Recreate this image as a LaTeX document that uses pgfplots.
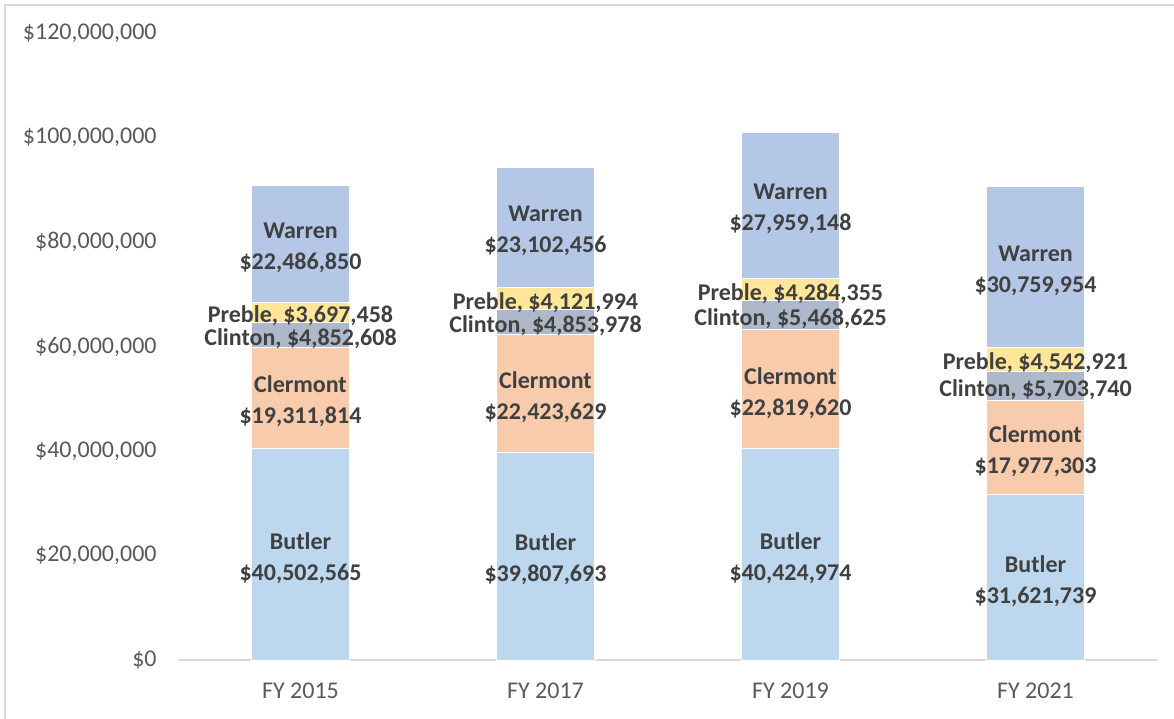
\documentclass[border=0pt]{standalone}
\usepackage{pgfplots}
\pgfplotsset{compat=1.18}
\usepackage{pgfplotstable}
\usepackage{fontspec}
\setmainfont{Carlito}
\definecolor{cButler}{HTML}{BDD7EE}
\definecolor{cClermont}{HTML}{F8CBAD}
\definecolor{cClinton}{HTML}{ADB9CA}
\definecolor{cPreble}{HTML}{FFE699}
\definecolor{cWarren}{HTML}{B4C7E7}
\definecolor{lbl}{HTML}{404040}
\definecolor{tck}{HTML}{595959}
\definecolor{frm}{HTML}{D9D9D9}

% values in millions of dollars
\pgfplotstableread{
x y label
0 40.502565 {Butler\\\$40,502,565}
1 39.807693 {Butler\\\$39,807,693}
2 40.424974 {Butler\\\$40,424,974}
3 31.621739 {Butler\\\$31,621,739}
}\butler
\pgfplotstableread{
x y label
0 19.311814 {Clermont\\\$19,311,814}
1 22.423629 {Clermont\\\$22,423,629}
2 22.819620 {Clermont\\\$22,819,620}
3 17.977303 {Clermont\\\$17,977,303}
}\clermont
\pgfplotstableread{
x y label
0 4.852608 {Clinton, \$4,852,608}
1 4.853978 {Clinton, \$4,853,978}
2 5.468625 {Clinton, \$5,468,625}
3 5.703740 {Clinton, \$5,703,740}
}\clinton
\pgfplotstableread{
x y label
0 3.697458 {Preble, \$3,697,458}
1 4.121994 {Preble, \$4,121,994}
2 4.284355 {Preble, \$4,284,355}
3 4.542921 {Preble, \$4,542,921}
}\preble
\pgfplotstableread{
x y label
0 22.486850 {Warren\\\$22,486,850}
1 23.102456 {Warren\\\$23,102,456}
2 27.959148 {Warren\\\$27,959,148}
3 30.759954 {Warren\\\$30,759,954}
}\warren

\begin{document}
\begin{tikzpicture}
\useasboundingbox (-89bp,-29.5bp) rectangle (498bp,330bp);
\draw[frm, line width=1.2bp] (-86.5bp,-40bp) -- (-86.5bp,327.5bp) -- (510bp,327.5bp);
\begin{axis}[
  at={(0,0)}, anchor=south west,
  x=122.5bp, y=2.6125bp,
  xmin=-0.5, xmax=3.5, ymin=0, ymax=120,
  ybar stacked, bar width=49bp,
  axis x line*=bottom, axis y line*=left,
  x axis line style={draw=frm, line width=1bp, -},
  y axis line style={draw=none},
  major tick length=0pt,
  xtick={0,1,2,3},
  xticklabels={FY 2015,FY 2017,FY 2019,FY 2021},
  ytick={0,20,40,60,80,100,120},
  yticklabels={\$0,{\$20,000,000},{\$40,000,000},{\$60,000,000},{\$80,000,000},{\$100,000,000},{\$120,000,000}},
  tick label style={font=\fontsize{12bp}{14bp}\selectfont, text=tck},
  xticklabel style={anchor=base, inner sep=0pt, yshift=-19bp},
  yticklabel style={anchor=east, inner sep=0pt, xshift=-10.5bp},
  point meta=explicit symbolic,
  nodes near coords,
  every node near coord/.style={anchor=center, align=center, inner sep=0pt,
     font=\fontsize{12bp}{15.5bp}\selectfont\bfseries, text=lbl, yshift=-1.8bp},
  clip=false,
]
\addplot[fill=cButler, draw=white, line width=0.5bp] table[x=x,y=y,meta=label] {\butler};
\addplot[fill=cClermont, draw=white, line width=0.5bp] table[x=x,y=y,meta=label] {\clermont};
\addplot[fill=cClinton, draw=white, line width=0.5bp] table[x=x,y=y,meta=label] {\clinton};
\addplot[fill=cPreble, draw=white, line width=0.5bp] table[x=x,y=y,meta=label] {\preble};
\addplot[fill=cWarren, draw=white, line width=0.5bp] table[x=x,y=y,meta=label] {\warren};
\end{axis}
\end{tikzpicture}
\end{document}
